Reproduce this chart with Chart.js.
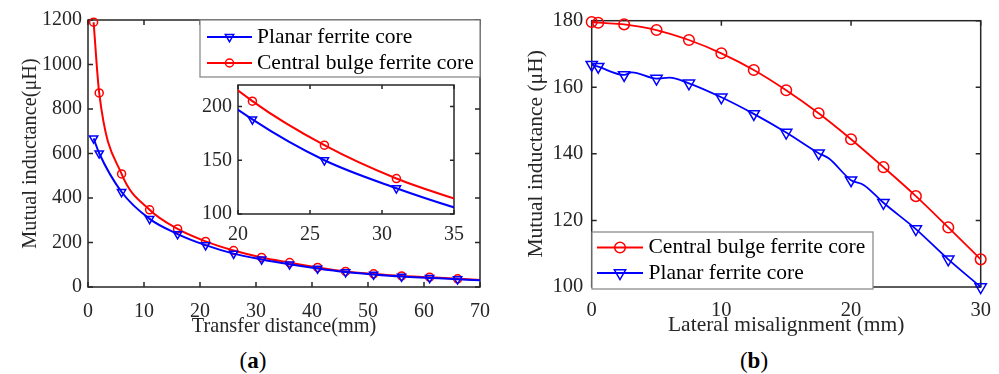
<!DOCTYPE html>
<html><head><meta charset="utf-8">
<script src="https://cdn.jsdelivr.net/npm/chart.js@4/dist/chart.umd.min.js"></script>
<style>
html,body{margin:0;padding:0;background:#fff;width:999px;height:374px;overflow:hidden;position:relative;}
.box{position:absolute;}
.cap{position:absolute;font-family:'Liberation Serif','Times New Roman',serif;font-size:23px;color:#000;transform:translate(-50%,-50%);white-space:nowrap;}
</style></head><body>
<div class="box" style="left:0;top:0;width:500px;height:345px"><canvas id="ca"></canvas></div>
<div class="box" style="left:180px;top:75px;width:290px;height:175px"><canvas id="ci"></canvas></div>
<div class="box" style="left:500px;top:0;width:499px;height:345px"><canvas id="cb"></canvas></div>
<div class="cap" style="left:253px;top:361px">(<b>a</b>)</div>
<div class="cap" style="left:754px;top:361px">(<b>b</b>)</div>
<script>
// ---------- data: panel (a) ----------
const distance = [1, 2, 6, 11, 16, 21, 26, 31, 36, 41, 46, 51, 56, 61, 66, 70];
const planarA  = [668, 601, 427, 306, 238, 188, 150, 124, 102, 83, 67, 56, 47, 41, 35, 30];
const bulgeA   = [1190, 872, 508, 347, 261, 205, 164, 133, 110, 88, 70, 59, 50, 44, 37, 32];
const distMarkers = [1, 2, 6, 11, 16, 21, 26, 31, 36, 41, 46, 51, 56, 61, 66];
const distTicks = [0, 10, 20, 30, 40, 50, 60, 70];
const indTicksA = [0, 200, 400, 600, 800, 1000, 1200];
const insetXTicks = [20, 25, 30, 35];
const insetYTicks = [100, 150, 200];
// ---------- data: panel (b) ----------
const misalignBulge  = [0, 0.5, 2.5, 5, 7.5, 10, 12.5, 15, 17.5, 20, 22.5, 25, 27.5, 30];
const bulgeB         = [179.6, 179.4, 178.9, 177.2, 174.2, 170.2, 165.2, 159.1, 152.2, 144.4, 136.0, 127.3, 117.9, 108.3];
const misalignPlanar = [0, 0.5, 2.5, 3.1, 5, 6, 7.5, 10, 12.5, 15, 17.5, 18.3, 20, 21, 22.5, 25, 27.5, 30];
const planarB        = [166.8, 166.2, 163.7, 164.5, 162.6, 162.9, 161.2, 157.0, 152.0, 146.4, 140.2, 138.6, 132.1, 130.6, 125.3, 117.4, 108.3, 100.0];
const misMarkers = [0, 0.5, 2.5, 5, 7.5, 10, 12.5, 15, 17.5, 20, 22.5, 25, 27.5, 30];
const misTicks = [0, 10, 20, 30];
const indTicksB = [100, 120, 140, 160, 180];
const labels = { planar: 'Planar ferrite core', bulge: 'Central bulge ferrite core' };

// ---------- styling ----------
const FONT = "'Liberation Serif','Times New Roman',serif";
const AX = '#262626';
const RED = '#ff0000', BLUE = '#0000ff';
const zip = (xs, ys) => xs.map((x, i) => ({ x, y: ys[i] }));

function drawMarker(ctx, style, x, y, r, rot) {
  ctx.beginPath();
  if (style === 'circle') {
    ctx.arc(x, y, r, 0, Math.PI * 2);
  } else {
    let rad = rot * Math.PI / 180;
    ctx.moveTo(x + Math.sin(rad) * r, y - Math.cos(rad) * r);
    rad += 2 * Math.PI / 3;
    ctx.lineTo(x + Math.sin(rad) * r, y - Math.cos(rad) * r);
    rad += 2 * Math.PI / 3;
    ctx.lineTo(x + Math.sin(rad) * r, y - Math.cos(rad) * r);
    ctx.closePath();
  }
  ctx.stroke();
}

const framePlugin = {
  id: 'frame',
  beforeDatasetsDraw(chart, args, o) {
    const { ctx, chartArea: a, scales: { x, y } } = chart;
    ctx.save();
    if (o.fill) { ctx.fillStyle = o.fill; ctx.fillRect(a.left, a.top, a.right - a.left, a.bottom - a.top); }
    ctx.strokeStyle = AX; ctx.lineWidth = o.lw || 1.5;
    const L = o.tick || 5;
    ctx.beginPath();
    x.ticks.forEach(t => { const p = x.getPixelForValue(t.value);
      ctx.moveTo(p, a.bottom); ctx.lineTo(p, a.bottom - L);
      ctx.moveTo(p, a.top); ctx.lineTo(p, a.top + L); });
    y.ticks.forEach(t => { const p = y.getPixelForValue(t.value);
      ctx.moveTo(a.left, p); ctx.lineTo(a.left + L, p);
      ctx.moveTo(a.right, p); ctx.lineTo(a.right - L, p); });
    ctx.stroke();
    ctx.strokeRect(a.left, a.top, a.right - a.left, a.bottom - a.top);
    ctx.restore();
  }
};

const boxLegend = {
  id: 'boxLegend',
  afterDraw(chart, args, o) {
    if (!o || !o.box) return;
    const ctx = chart.ctx;
    ctx.save();
    const [bx, by, bw, bh] = o.box;
    ctx.fillStyle = '#fff'; ctx.fillRect(bx, by, bw, bh);
    ctx.strokeStyle = '#8c8c8c'; ctx.lineWidth = 1.3; ctx.strokeRect(bx, by, bw, bh);
    o.rows.forEach((di, k) => {
      const ds = chart.data.datasets[di];
      const yy = o.rowY[k];
      ctx.strokeStyle = ds.borderColor; ctx.lineWidth = ds.borderWidth;
      ctx.beginPath(); ctx.moveTo(o.line[0], yy); ctx.lineTo(o.line[1], yy); ctx.stroke();
      ctx.lineWidth = ds.pointBorderWidth;
      drawMarker(ctx, ds.pointStyle, (o.line[0] + o.line[1]) / 2, yy, o.markerR[k], ds.pointRotation || 0);
      ctx.fillStyle = '#000';
      ctx.font = o.fontSize + 'px ' + FONT;
      ctx.textBaseline = 'middle'; ctx.textAlign = 'left';
      ctx.fillText(ds.label, o.textX, yy);
    });
    ctx.restore();
  }
};

function ticksFrom(arr) { return s => { s.ticks = arr.map(v => ({ value: v })); }; }
const plain = v => String(v);
function xScale(min, max, tickArr, title, h, tickPad, titlePad, fs, tfs) {
  return {
    type: 'linear', min, max,
    afterBuildTicks: ticksFrom(tickArr),
    afterFit: s => { s.height = h; s.paddingLeft = 0; s.paddingRight = 0; },
    grid: { display: false, drawTicks: false }, border: { display: false },
    ticks: { padding: tickPad, color: AX, font: { family: FONT, size: fs }, maxRotation: 0, callback: plain },
    title: title ? { display: true, text: title, color: AX, font: { family: FONT, size: tfs }, padding: { top: 0, bottom: titlePad } } : { display: false }
  };
}
function yScale(min, max, tickArr, title, w, tickPad, titlePad, fs, tfs) {
  return {
    type: 'linear', min, max,
    afterBuildTicks: ticksFrom(tickArr),
    afterFit: s => { s.width = w; s.paddingTop = 0; s.paddingBottom = 0; },
    grid: { display: false, drawTicks: false }, border: { display: false },
    ticks: { padding: tickPad, color: AX, font: { family: FONT, size: fs }, callback: plain },
    title: title ? { display: true, text: title, color: AX, font: { family: FONT, size: tfs }, padding: { top: titlePad, bottom: 0 } } : { display: false }
  };
}
function series(label, xs, ys, color, style, r, markerXs, lw, clip) {
  return {
    label, data: zip(xs, ys), borderColor: color, backgroundColor: 'rgba(0,0,0,0)',
    borderWidth: lw, pointStyle: style, pointRotation: style === 'triangle' ? 180 : 0,
    pointRadius: c => (markerXs.includes(c.raw.x) ? r : 0),
    pointBorderWidth: 1.5, pointBorderColor: color, pointBackgroundColor: 'rgba(0,0,0,0)',
    cubicInterpolationMode: 'monotone', fill: false, clip
  };
}
const common = { responsive: true, maintainAspectRatio: false, animation: false, events: [] };

// ---------- panel (a) ----------
new Chart(document.getElementById('ca'), {
  type: 'line',
  data: { datasets: [
    series(labels.planar, distance, planarA, BLUE, 'triangle', 4.8, distMarkers, 2, false),
    series(labels.bulge, distance, bulgeA, RED, 'circle', 4, distMarkers, 2, false)
  ] },
  options: { ...common,
    layout: { padding: { left: 0, right: 20, top: 20, bottom: 0 } },
    plugins: { legend: { display: false }, tooltip: { enabled: false },
      frame: { tick: 5 },
      boxLegend: { box: [200, 20, 280, 57], rows: [0, 1], rowY: [37, 63], line: [207, 252], textX: 257, markerR: [4.8, 4], fontSize: 21.5 } },
    scales: {
      x: xScale(0, 70, distTicks, 'Transfer distance(mm)', 58, 13, 6, 20, 20.3),
      y: yScale(0, 1200, indTicksA, 'Mutual inductance(μH)', 88, 6, 18, 20, 20.3)
    }
  },
  plugins: [framePlugin, boxLegend]
});

// ---------- inset of panel (a) ----------
new Chart(document.getElementById('ci'), {
  type: 'line',
  data: { datasets: [
    series(labels.planar, distance, planarA, BLUE, 'triangle', 4.8, distMarkers, 2, 0),
    series(labels.bulge, distance, bulgeA, RED, 'circle', 4, distMarkers, 2, 0)
  ] },
  options: { ...common,
    layout: { padding: { left: 0, right: 16, top: 10, bottom: 0 } },
    plugins: { legend: { display: false }, tooltip: { enabled: false }, frame: { tick: 4, fill: '#fff' } },
    scales: {
      x: xScale(20, 35, insetXTicks, null, 36, 9, 0, 20, 20),
      y: yScale(100, 220, insetYTicks, null, 58, 6, 0, 20, 20)
    }
  },
  plugins: [framePlugin]
});

// ---------- panel (b) ----------
new Chart(document.getElementById('cb'), {
  type: 'line',
  data: { datasets: [
    series(labels.bulge, misalignBulge, bulgeB, RED, 'circle', 5.3, misMarkers, 1.8, false),
    series(labels.planar, misalignPlanar, planarB, BLUE, 'triangle', 6.5, misMarkers, 1.8, false)
  ] },
  options: { ...common,
    layout: { padding: { left: 0, right: 18.3, top: 20.7, bottom: 0 } },
    plugins: { legend: { display: false }, tooltip: { enabled: false },
      frame: { tick: 5 },
      boxLegend: { box: [92, 232, 281, 57], rows: [0, 1], rowY: [247.5, 273], line: [97, 143], textX: 148.5, markerR: [5.3, 6.5], fontSize: 21.5 } },
    scales: {
      x: xScale(0, 30, misTicks, 'Lateral misalignment (mm)', 58, 11, 7, 20.5, 21.5),
      y: yScale(100, 180, indTicksB, 'Mutual inductance (μH)', 91.7, 8.5, 23, 20.5, 21.5)
    }
  },
  plugins: [framePlugin, boxLegend]
});
</script>
</body></html>
